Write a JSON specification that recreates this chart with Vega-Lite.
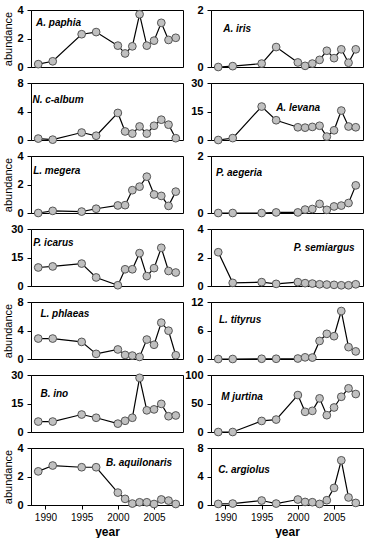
{
"$schema":"https://vega.github.io/schema/vega-lite/v6.json",
"padding":{"left":2,"top":3,"right":0,"bottom":0},
"columns":2,
"spacing":{"row":16,"column":28},
"bounds":"flush",
"datasets":{"d":[
{"species":"A. paphia","year":1989,"abundance":0.2},{"species":"A. paphia","year":1991,"abundance":0.4},{"species":"A. paphia","year":1995,"abundance":2.3},{"species":"A. paphia","year":1997,"abundance":2.45},{"species":"A. paphia","year":2000,"abundance":1.5},{"species":"A. paphia","year":2001,"abundance":0.95},{"species":"A. paphia","year":2002,"abundance":1.45},{"species":"A. paphia","year":2003,"abundance":3.7},{"species":"A. paphia","year":2004,"abundance":1.5},{"species":"A. paphia","year":2005,"abundance":1.85},{"species":"A. paphia","year":2006,"abundance":3.1},{"species":"A. paphia","year":2007,"abundance":1.9},{"species":"A. paphia","year":2008,"abundance":2.05},
{"species":"A. iris","year":1989,"abundance":0},{"species":"A. iris","year":1991,"abundance":0.03},{"species":"A. iris","year":1995,"abundance":0.12},{"species":"A. iris","year":1997,"abundance":0.7},{"species":"A. iris","year":2000,"abundance":0.16},{"species":"A. iris","year":2001,"abundance":0.04},{"species":"A. iris","year":2002,"abundance":0.12},{"species":"A. iris","year":2003,"abundance":0.25},{"species":"A. iris","year":2004,"abundance":0.57},{"species":"A. iris","year":2005,"abundance":0.31},{"species":"A. iris","year":2006,"abundance":0.62},{"species":"A. iris","year":2007,"abundance":0.15},{"species":"A. iris","year":2008,"abundance":0.62},
{"species":"N. c-album","year":1989,"abundance":0.2},{"species":"N. c-album","year":1991,"abundance":0.05},{"species":"N. c-album","year":1995,"abundance":1.05},{"species":"N. c-album","year":1997,"abundance":0.6},{"species":"N. c-album","year":2000,"abundance":3.8},{"species":"N. c-album","year":2001,"abundance":1.2},{"species":"N. c-album","year":2002,"abundance":0.9},{"species":"N. c-album","year":2003,"abundance":1.9},{"species":"N. c-album","year":2004,"abundance":0.9},{"species":"N. c-album","year":2005,"abundance":2.0},{"species":"N. c-album","year":2006,"abundance":2.85},{"species":"N. c-album","year":2007,"abundance":2.15},{"species":"N. c-album","year":2008,"abundance":0.25},
{"species":"A. levana","year":1989,"abundance":0},{"species":"A. levana","year":1991,"abundance":1},{"species":"A. levana","year":1995,"abundance":17.6},{"species":"A. levana","year":1997,"abundance":10.4},{"species":"A. levana","year":2000,"abundance":6.7},{"species":"A. levana","year":2001,"abundance":6.5},{"species":"A. levana","year":2002,"abundance":6.9},{"species":"A. levana","year":2003,"abundance":7.5},{"species":"A. levana","year":2004,"abundance":1.8},{"species":"A. levana","year":2005,"abundance":5.1},{"species":"A. levana","year":2006,"abundance":15.5},{"species":"A. levana","year":2007,"abundance":7.1},{"species":"A. levana","year":2008,"abundance":6.7},
{"species":"L. megera","year":1989,"abundance":0},{"species":"L. megera","year":1991,"abundance":0.15},{"species":"L. megera","year":1995,"abundance":0.1},{"species":"L. megera","year":1997,"abundance":0.3},{"species":"L. megera","year":2000,"abundance":0.53},{"species":"L. megera","year":2001,"abundance":0.55},{"species":"L. megera","year":2002,"abundance":1.6},{"species":"L. megera","year":2003,"abundance":1.85},{"species":"L. megera","year":2004,"abundance":2.55},{"species":"L. megera","year":2005,"abundance":1.3},{"species":"L. megera","year":2006,"abundance":1.2},{"species":"L. megera","year":2007,"abundance":0.5},{"species":"L. megera","year":2008,"abundance":1.5},
{"species":"P. aegeria","year":1989,"abundance":0},{"species":"P. aegeria","year":1991,"abundance":0},{"species":"P. aegeria","year":1995,"abundance":0},{"species":"P. aegeria","year":1997,"abundance":0.02},{"species":"P. aegeria","year":2000,"abundance":0.02},{"species":"P. aegeria","year":2001,"abundance":0.12},{"species":"P. aegeria","year":2002,"abundance":0.14},{"species":"P. aegeria","year":2003,"abundance":0.32},{"species":"P. aegeria","year":2004,"abundance":0.11},{"species":"P. aegeria","year":2005,"abundance":0.23},{"species":"P. aegeria","year":2006,"abundance":0.26},{"species":"P. aegeria","year":2007,"abundance":0.35},{"species":"P. aegeria","year":2008,"abundance":0.97},
{"species":"P. icarus","year":1989,"abundance":9.75},{"species":"P. icarus","year":1991,"abundance":10.3},{"species":"P. icarus","year":1995,"abundance":11.8},{"species":"P. icarus","year":1997,"abundance":4.5},{"species":"P. icarus","year":2000,"abundance":0.4},{"species":"P. icarus","year":2001,"abundance":8.8},{"species":"P. icarus","year":2002,"abundance":8.8},{"species":"P. icarus","year":2003,"abundance":17.3},{"species":"P. icarus","year":2004,"abundance":5.2},{"species":"P. icarus","year":2005,"abundance":9.4},{"species":"P. icarus","year":2006,"abundance":20.1},{"species":"P. icarus","year":2007,"abundance":7.9},{"species":"P. icarus","year":2008,"abundance":7.1},
{"species":"P. semiargus","year":1989,"abundance":2.37},{"species":"P. semiargus","year":1991,"abundance":0.22},{"species":"P. semiargus","year":1995,"abundance":0.27},{"species":"P. semiargus","year":1997,"abundance":0.15},{"species":"P. semiargus","year":2000,"abundance":0.27},{"species":"P. semiargus","year":2001,"abundance":0.2},{"species":"P. semiargus","year":2002,"abundance":0.17},{"species":"P. semiargus","year":2003,"abundance":0.12},{"species":"P. semiargus","year":2004,"abundance":0.1},{"species":"P. semiargus","year":2005,"abundance":0.08},{"species":"P. semiargus","year":2006,"abundance":0.05},{"species":"P. semiargus","year":2007,"abundance":0.05},{"species":"P. semiargus","year":2008,"abundance":0.12},
{"species":"L. phlaeas","year":1989,"abundance":2.87},{"species":"L. phlaeas","year":1991,"abundance":2.87},{"species":"L. phlaeas","year":1995,"abundance":2.4},{"species":"L. phlaeas","year":1997,"abundance":0.72},{"species":"L. phlaeas","year":2000,"abundance":1.34},{"species":"L. phlaeas","year":2001,"abundance":0.57},{"species":"L. phlaeas","year":2002,"abundance":0.48},{"species":"L. phlaeas","year":2003,"abundance":0.29},{"species":"L. phlaeas","year":2004,"abundance":2.73},{"species":"L. phlaeas","year":2005,"abundance":2.0},{"species":"L. phlaeas","year":2006,"abundance":5.1},{"species":"L. phlaeas","year":2007,"abundance":3.97},{"species":"L. phlaeas","year":2008,"abundance":0.53},
{"species":"L. tityrus","year":1989,"abundance":0},{"species":"L. tityrus","year":1991,"abundance":0},{"species":"L. tityrus","year":1995,"abundance":0.05},{"species":"L. tityrus","year":1997,"abundance":0.05},{"species":"L. tityrus","year":2000,"abundance":0.1},{"species":"L. tityrus","year":2001,"abundance":0.35},{"species":"L. tityrus","year":2002,"abundance":0.3},{"species":"L. tityrus","year":2003,"abundance":3.8},{"species":"L. tityrus","year":2004,"abundance":5.3},{"species":"L. tityrus","year":2005,"abundance":4.8},{"species":"L. tityrus","year":2006,"abundance":10.1},{"species":"L. tityrus","year":2007,"abundance":2.5},{"species":"L. tityrus","year":2008,"abundance":1.6},
{"species":"B. ino","year":1989,"abundance":5.5},{"species":"B. ino","year":1991,"abundance":5.5},{"species":"B. ino","year":1995,"abundance":9.2},{"species":"B. ino","year":1997,"abundance":7.5},{"species":"B. ino","year":2000,"abundance":4.4},{"species":"B. ino","year":2001,"abundance":5.9},{"species":"B. ino","year":2002,"abundance":7.5},{"species":"B. ino","year":2003,"abundance":28.5},{"species":"B. ino","year":2004,"abundance":11.4},{"species":"B. ino","year":2005,"abundance":11.9},{"species":"B. ino","year":2006,"abundance":14.8},{"species":"B. ino","year":2007,"abundance":8.3},{"species":"B. ino","year":2008,"abundance":8.7},
{"species":"M jurtina","year":1989,"abundance":0},{"species":"M jurtina","year":1991,"abundance":0},{"species":"M jurtina","year":1995,"abundance":19.4},{"species":"M jurtina","year":1997,"abundance":21.8},{"species":"M jurtina","year":2000,"abundance":64.8},{"species":"M jurtina","year":2001,"abundance":35.4},{"species":"M jurtina","year":2002,"abundance":37.1},{"species":"M jurtina","year":2003,"abundance":59},{"species":"M jurtina","year":2004,"abundance":29.5},{"species":"M jurtina","year":2005,"abundance":43},{"species":"M jurtina","year":2006,"abundance":61.8},{"species":"M jurtina","year":2007,"abundance":76.6},{"species":"M jurtina","year":2008,"abundance":66.6},
{"species":"B. aquilonaris","year":1989,"abundance":2.36},{"species":"B. aquilonaris","year":1991,"abundance":2.77},{"species":"B. aquilonaris","year":1995,"abundance":2.65},{"species":"B. aquilonaris","year":1997,"abundance":2.65},{"species":"B. aquilonaris","year":2000,"abundance":0.87},{"species":"B. aquilonaris","year":2001,"abundance":0.43},{"species":"B. aquilonaris","year":2002,"abundance":0.1},{"species":"B. aquilonaris","year":2003,"abundance":0.19},{"species":"B. aquilonaris","year":2004,"abundance":0.19},{"species":"B. aquilonaris","year":2005,"abundance":0.07},{"species":"B. aquilonaris","year":2006,"abundance":0.39},{"species":"B. aquilonaris","year":2007,"abundance":0.31},{"species":"B. aquilonaris","year":2008,"abundance":0.07},
{"species":"C. argiolus","year":1989,"abundance":0.15},{"species":"C. argiolus","year":1991,"abundance":0.2},{"species":"C. argiolus","year":1995,"abundance":0.63},{"species":"C. argiolus","year":1997,"abundance":0.2},{"species":"C. argiolus","year":2000,"abundance":0.77},{"species":"C. argiolus","year":2001,"abundance":0.43},{"species":"C. argiolus","year":2002,"abundance":0.39},{"species":"C. argiolus","year":2003,"abundance":0.15},{"species":"C. argiolus","year":2004,"abundance":0.67},{"species":"C. argiolus","year":2005,"abundance":2.4},{"species":"C. argiolus","year":2006,"abundance":6.27},{"species":"C. argiolus","year":2007,"abundance":1.06},{"species":"C. argiolus","year":2008,"abundance":0.29}
]},
"concat":[
{"width":152,"height":57,"layer":[
{"data":{"name":"d"},"transform":[{"filter":"datum.species==='A. paphia'"}],"mark":{"type":"line","color":"black","strokeWidth":1.2},"encoding":{"x":{"field":"year","type":"quantitative","scale":{"domain":[1988,2009],"nice":false,"zero":false},"axis":null},"y":{"field":"abundance","type":"quantitative","scale":{"domain":[0,4],"nice":false},"axis":{"values":[0,2,4],"format":"d","title":"abundance"}}}},
{"data":{"name":"d"},"transform":[{"filter":"datum.species==='A. paphia'"}],"mark":{"type":"point","filled":true,"fill":"#c0c0c0","stroke":"#555555","strokeWidth":1,"size":60,"opacity":1},"encoding":{"x":{"field":"year","type":"quantitative","scale":{"domain":[1988,2009],"nice":false,"zero":false},"axis":null},"y":{"field":"abundance","type":"quantitative","scale":{"domain":[0,4],"nice":false},"axis":{"values":[0,2,4],"format":"d","title":"abundance"}}}},
{"data":{"values":[{"label":"A. paphia"}]},"mark":{"type":"text","align":"left","baseline":"middle","fontStyle":"italic","fontWeight":"bold","fontSize":10},"encoding":{"text":{"field":"label"},"x":{"datum":1988.7,"type":"quantitative","scale":{"domain":[1988,2009],"nice":false,"zero":false},"axis":null},"y":{"datum":3.1,"type":"quantitative","scale":{"domain":[0,4],"nice":false},"axis":{"values":[0,2,4],"format":"d","title":"abundance"}}}}]},
{"width":152,"height":57,"layer":[
{"data":{"name":"d"},"transform":[{"filter":"datum.species==='A. iris'"}],"mark":{"type":"line","color":"black","strokeWidth":1.2},"encoding":{"x":{"field":"year","type":"quantitative","scale":{"domain":[1988,2009],"nice":false,"zero":false},"axis":null},"y":{"field":"abundance","type":"quantitative","scale":{"domain":[0,2],"nice":false},"axis":{"values":[0,1,2],"format":"d","title":null}}}},
{"data":{"name":"d"},"transform":[{"filter":"datum.species==='A. iris'"}],"mark":{"type":"point","filled":true,"fill":"#c0c0c0","stroke":"#555555","strokeWidth":1,"size":60,"opacity":1},"encoding":{"x":{"field":"year","type":"quantitative","scale":{"domain":[1988,2009],"nice":false,"zero":false},"axis":null},"y":{"field":"abundance","type":"quantitative","scale":{"domain":[0,2],"nice":false},"axis":{"values":[0,1,2],"format":"d","title":null}}}},
{"data":{"values":[{"label":"A. iris"}]},"mark":{"type":"text","align":"left","baseline":"middle","fontStyle":"italic","fontWeight":"bold","fontSize":10},"encoding":{"text":{"field":"label"},"x":{"datum":1989.7,"type":"quantitative","scale":{"domain":[1988,2009],"nice":false,"zero":false},"axis":null},"y":{"datum":1.33,"type":"quantitative","scale":{"domain":[0,2],"nice":false},"axis":{"values":[0,1,2],"format":"d","title":null}}}}]},
{"width":152,"height":57,"layer":[
{"data":{"name":"d"},"transform":[{"filter":"datum.species==='N. c-album'"}],"mark":{"type":"line","color":"black","strokeWidth":1.2},"encoding":{"x":{"field":"year","type":"quantitative","scale":{"domain":[1988,2009],"nice":false,"zero":false},"axis":null},"y":{"field":"abundance","type":"quantitative","scale":{"domain":[0,8],"nice":false},"axis":{"values":[0,4,8],"format":"d","title":null}}}},
{"data":{"name":"d"},"transform":[{"filter":"datum.species==='N. c-album'"}],"mark":{"type":"point","filled":true,"fill":"#c0c0c0","stroke":"#555555","strokeWidth":1,"size":60,"opacity":1},"encoding":{"x":{"field":"year","type":"quantitative","scale":{"domain":[1988,2009],"nice":false,"zero":false},"axis":null},"y":{"field":"abundance","type":"quantitative","scale":{"domain":[0,8],"nice":false},"axis":{"values":[0,4,8],"format":"d","title":null}}}},
{"data":{"values":[{"label":"N. c-album"}]},"mark":{"type":"text","align":"left","baseline":"middle","fontStyle":"italic","fontWeight":"bold","fontSize":10},"encoding":{"text":{"field":"label"},"x":{"datum":1988.2,"type":"quantitative","scale":{"domain":[1988,2009],"nice":false,"zero":false},"axis":null},"y":{"datum":5.6,"type":"quantitative","scale":{"domain":[0,8],"nice":false},"axis":{"values":[0,4,8],"format":"d","title":null}}}}]},
{"width":152,"height":57,"layer":[
{"data":{"name":"d"},"transform":[{"filter":"datum.species==='A. levana'"}],"mark":{"type":"line","color":"black","strokeWidth":1.2},"encoding":{"x":{"field":"year","type":"quantitative","scale":{"domain":[1988,2009],"nice":false,"zero":false},"axis":null},"y":{"field":"abundance","type":"quantitative","scale":{"domain":[0,30],"nice":false},"axis":{"values":[0,15,30],"format":"d","title":null}}}},
{"data":{"name":"d"},"transform":[{"filter":"datum.species==='A. levana'"}],"mark":{"type":"point","filled":true,"fill":"#c0c0c0","stroke":"#555555","strokeWidth":1,"size":60,"opacity":1},"encoding":{"x":{"field":"year","type":"quantitative","scale":{"domain":[1988,2009],"nice":false,"zero":false},"axis":null},"y":{"field":"abundance","type":"quantitative","scale":{"domain":[0,30],"nice":false},"axis":{"values":[0,15,30],"format":"d","title":null}}}},
{"data":{"values":[{"label":"A. levana"}]},"mark":{"type":"text","align":"left","baseline":"middle","fontStyle":"italic","fontWeight":"bold","fontSize":10},"encoding":{"text":{"field":"label"},"x":{"datum":1997.0,"type":"quantitative","scale":{"domain":[1988,2009],"nice":false,"zero":false},"axis":null},"y":{"datum":16.8,"type":"quantitative","scale":{"domain":[0,30],"nice":false},"axis":{"values":[0,15,30],"format":"d","title":null}}}}]},
{"width":152,"height":57,"layer":[
{"data":{"name":"d"},"transform":[{"filter":"datum.species==='L. megera'"}],"mark":{"type":"line","color":"black","strokeWidth":1.2},"encoding":{"x":{"field":"year","type":"quantitative","scale":{"domain":[1988,2009],"nice":false,"zero":false},"axis":null},"y":{"field":"abundance","type":"quantitative","scale":{"domain":[0,4],"nice":false},"axis":{"values":[0,2,4],"format":"d","title":"abundance"}}}},
{"data":{"name":"d"},"transform":[{"filter":"datum.species==='L. megera'"}],"mark":{"type":"point","filled":true,"fill":"#c0c0c0","stroke":"#555555","strokeWidth":1,"size":60,"opacity":1},"encoding":{"x":{"field":"year","type":"quantitative","scale":{"domain":[1988,2009],"nice":false,"zero":false},"axis":null},"y":{"field":"abundance","type":"quantitative","scale":{"domain":[0,4],"nice":false},"axis":{"values":[0,2,4],"format":"d","title":"abundance"}}}},
{"data":{"values":[{"label":"L. megera"}]},"mark":{"type":"text","align":"left","baseline":"middle","fontStyle":"italic","fontWeight":"bold","fontSize":10},"encoding":{"text":{"field":"label"},"x":{"datum":1988.3,"type":"quantitative","scale":{"domain":[1988,2009],"nice":false,"zero":false},"axis":null},"y":{"datum":2.95,"type":"quantitative","scale":{"domain":[0,4],"nice":false},"axis":{"values":[0,2,4],"format":"d","title":"abundance"}}}}]},
{"width":152,"height":57,"layer":[
{"data":{"name":"d"},"transform":[{"filter":"datum.species==='P. aegeria'"}],"mark":{"type":"line","color":"black","strokeWidth":1.2},"encoding":{"x":{"field":"year","type":"quantitative","scale":{"domain":[1988,2009],"nice":false,"zero":false},"axis":null},"y":{"field":"abundance","type":"quantitative","scale":{"domain":[0,2],"nice":false},"axis":{"values":[0,1,2],"format":"d","title":null}}}},
{"data":{"name":"d"},"transform":[{"filter":"datum.species==='P. aegeria'"}],"mark":{"type":"point","filled":true,"fill":"#c0c0c0","stroke":"#555555","strokeWidth":1,"size":60,"opacity":1},"encoding":{"x":{"field":"year","type":"quantitative","scale":{"domain":[1988,2009],"nice":false,"zero":false},"axis":null},"y":{"field":"abundance","type":"quantitative","scale":{"domain":[0,2],"nice":false},"axis":{"values":[0,1,2],"format":"d","title":null}}}},
{"data":{"values":[{"label":"P. aegeria"}]},"mark":{"type":"text","align":"left","baseline":"middle","fontStyle":"italic","fontWeight":"bold","fontSize":10},"encoding":{"text":{"field":"label"},"x":{"datum":1988.7,"type":"quantitative","scale":{"domain":[1988,2009],"nice":false,"zero":false},"axis":null},"y":{"datum":1.4,"type":"quantitative","scale":{"domain":[0,2],"nice":false},"axis":{"values":[0,1,2],"format":"d","title":null}}}}]},
{"width":152,"height":57,"layer":[
{"data":{"name":"d"},"transform":[{"filter":"datum.species==='P. icarus'"}],"mark":{"type":"line","color":"black","strokeWidth":1.2},"encoding":{"x":{"field":"year","type":"quantitative","scale":{"domain":[1988,2009],"nice":false,"zero":false},"axis":null},"y":{"field":"abundance","type":"quantitative","scale":{"domain":[0,30],"nice":false},"axis":{"values":[0,15,30],"format":"d","title":null}}}},
{"data":{"name":"d"},"transform":[{"filter":"datum.species==='P. icarus'"}],"mark":{"type":"point","filled":true,"fill":"#c0c0c0","stroke":"#555555","strokeWidth":1,"size":60,"opacity":1},"encoding":{"x":{"field":"year","type":"quantitative","scale":{"domain":[1988,2009],"nice":false,"zero":false},"axis":null},"y":{"field":"abundance","type":"quantitative","scale":{"domain":[0,30],"nice":false},"axis":{"values":[0,15,30],"format":"d","title":null}}}},
{"data":{"values":[{"label":"P. icarus"}]},"mark":{"type":"text","align":"left","baseline":"middle","fontStyle":"italic","fontWeight":"bold","fontSize":10},"encoding":{"text":{"field":"label"},"x":{"datum":1988.3,"type":"quantitative","scale":{"domain":[1988,2009],"nice":false,"zero":false},"axis":null},"y":{"datum":22.6,"type":"quantitative","scale":{"domain":[0,30],"nice":false},"axis":{"values":[0,15,30],"format":"d","title":null}}}}]},
{"width":152,"height":57,"layer":[
{"data":{"name":"d"},"transform":[{"filter":"datum.species==='P. semiargus'"}],"mark":{"type":"line","color":"black","strokeWidth":1.2},"encoding":{"x":{"field":"year","type":"quantitative","scale":{"domain":[1988,2009],"nice":false,"zero":false},"axis":null},"y":{"field":"abundance","type":"quantitative","scale":{"domain":[0,4],"nice":false},"axis":{"values":[0,2,4],"format":"d","title":null}}}},
{"data":{"name":"d"},"transform":[{"filter":"datum.species==='P. semiargus'"}],"mark":{"type":"point","filled":true,"fill":"#c0c0c0","stroke":"#555555","strokeWidth":1,"size":60,"opacity":1},"encoding":{"x":{"field":"year","type":"quantitative","scale":{"domain":[1988,2009],"nice":false,"zero":false},"axis":null},"y":{"field":"abundance","type":"quantitative","scale":{"domain":[0,4],"nice":false},"axis":{"values":[0,2,4],"format":"d","title":null}}}},
{"data":{"values":[{"label":"P. semiargus"}]},"mark":{"type":"text","align":"right","baseline":"middle","fontStyle":"italic","fontWeight":"bold","fontSize":10},"encoding":{"text":{"field":"label"},"x":{"datum":2007.85,"type":"quantitative","scale":{"domain":[1988,2009],"nice":false,"zero":false},"axis":null},"y":{"datum":2.67,"type":"quantitative","scale":{"domain":[0,4],"nice":false},"axis":{"values":[0,2,4],"format":"d","title":null}}}}]},
{"width":152,"height":57,"layer":[
{"data":{"name":"d"},"transform":[{"filter":"datum.species==='L. phlaeas'"}],"mark":{"type":"line","color":"black","strokeWidth":1.2},"encoding":{"x":{"field":"year","type":"quantitative","scale":{"domain":[1988,2009],"nice":false,"zero":false},"axis":null},"y":{"field":"abundance","type":"quantitative","scale":{"domain":[0,8],"nice":false},"axis":{"values":[0,4,8],"format":"d","title":"abundance"}}}},
{"data":{"name":"d"},"transform":[{"filter":"datum.species==='L. phlaeas'"}],"mark":{"type":"point","filled":true,"fill":"#c0c0c0","stroke":"#555555","strokeWidth":1,"size":60,"opacity":1},"encoding":{"x":{"field":"year","type":"quantitative","scale":{"domain":[1988,2009],"nice":false,"zero":false},"axis":null},"y":{"field":"abundance","type":"quantitative","scale":{"domain":[0,8],"nice":false},"axis":{"values":[0,4,8],"format":"d","title":"abundance"}}}},
{"data":{"values":[{"label":"L. phlaeas"}]},"mark":{"type":"text","align":"left","baseline":"middle","fontStyle":"italic","fontWeight":"bold","fontSize":10},"encoding":{"text":{"field":"label"},"x":{"datum":1989.3,"type":"quantitative","scale":{"domain":[1988,2009],"nice":false,"zero":false},"axis":null},"y":{"datum":6.3,"type":"quantitative","scale":{"domain":[0,8],"nice":false},"axis":{"values":[0,4,8],"format":"d","title":"abundance"}}}}]},
{"width":152,"height":57,"layer":[
{"data":{"name":"d"},"transform":[{"filter":"datum.species==='L. tityrus'"}],"mark":{"type":"line","color":"black","strokeWidth":1.2},"encoding":{"x":{"field":"year","type":"quantitative","scale":{"domain":[1988,2009],"nice":false,"zero":false},"axis":null},"y":{"field":"abundance","type":"quantitative","scale":{"domain":[0,12],"nice":false},"axis":{"values":[0,6,12],"format":"d","title":null}}}},
{"data":{"name":"d"},"transform":[{"filter":"datum.species==='L. tityrus'"}],"mark":{"type":"point","filled":true,"fill":"#c0c0c0","stroke":"#555555","strokeWidth":1,"size":60,"opacity":1},"encoding":{"x":{"field":"year","type":"quantitative","scale":{"domain":[1988,2009],"nice":false,"zero":false},"axis":null},"y":{"field":"abundance","type":"quantitative","scale":{"domain":[0,12],"nice":false},"axis":{"values":[0,6,12],"format":"d","title":null}}}},
{"data":{"values":[{"label":"L. tityrus"}]},"mark":{"type":"text","align":"left","baseline":"middle","fontStyle":"italic","fontWeight":"bold","fontSize":10},"encoding":{"text":{"field":"label"},"x":{"datum":1989.1,"type":"quantitative","scale":{"domain":[1988,2009],"nice":false,"zero":false},"axis":null},"y":{"datum":8.2,"type":"quantitative","scale":{"domain":[0,12],"nice":false},"axis":{"values":[0,6,12],"format":"d","title":null}}}}]},
{"width":152,"height":57,"layer":[
{"data":{"name":"d"},"transform":[{"filter":"datum.species==='B. ino'"}],"mark":{"type":"line","color":"black","strokeWidth":1.2},"encoding":{"x":{"field":"year","type":"quantitative","scale":{"domain":[1988,2009],"nice":false,"zero":false},"axis":null},"y":{"field":"abundance","type":"quantitative","scale":{"domain":[0,30],"nice":false},"axis":{"values":[0,15,30],"format":"d","title":null}}}},
{"data":{"name":"d"},"transform":[{"filter":"datum.species==='B. ino'"}],"mark":{"type":"point","filled":true,"fill":"#c0c0c0","stroke":"#555555","strokeWidth":1,"size":60,"opacity":1},"encoding":{"x":{"field":"year","type":"quantitative","scale":{"domain":[1988,2009],"nice":false,"zero":false},"axis":null},"y":{"field":"abundance","type":"quantitative","scale":{"domain":[0,30],"nice":false},"axis":{"values":[0,15,30],"format":"d","title":null}}}},
{"data":{"values":[{"label":"B. ino"}]},"mark":{"type":"text","align":"left","baseline":"middle","fontStyle":"italic","fontWeight":"bold","fontSize":10},"encoding":{"text":{"field":"label"},"x":{"datum":1989.3,"type":"quantitative","scale":{"domain":[1988,2009],"nice":false,"zero":false},"axis":null},"y":{"datum":20,"type":"quantitative","scale":{"domain":[0,30],"nice":false},"axis":{"values":[0,15,30],"format":"d","title":null}}}}]},
{"width":152,"height":57,"layer":[
{"data":{"name":"d"},"transform":[{"filter":"datum.species==='M jurtina'"}],"mark":{"type":"line","color":"black","strokeWidth":1.2},"encoding":{"x":{"field":"year","type":"quantitative","scale":{"domain":[1988,2009],"nice":false,"zero":false},"axis":null},"y":{"field":"abundance","type":"quantitative","scale":{"domain":[0,100],"nice":false},"axis":{"values":[0,50,100],"format":"d","title":null}}}},
{"data":{"name":"d"},"transform":[{"filter":"datum.species==='M jurtina'"}],"mark":{"type":"point","filled":true,"fill":"#c0c0c0","stroke":"#555555","strokeWidth":1,"size":60,"opacity":1},"encoding":{"x":{"field":"year","type":"quantitative","scale":{"domain":[1988,2009],"nice":false,"zero":false},"axis":null},"y":{"field":"abundance","type":"quantitative","scale":{"domain":[0,100],"nice":false},"axis":{"values":[0,50,100],"format":"d","title":null}}}},
{"data":{"values":[{"label":"M jurtina"}]},"mark":{"type":"text","align":"left","baseline":"middle","fontStyle":"italic","fontWeight":"bold","fontSize":10},"encoding":{"text":{"field":"label"},"x":{"datum":1989.4,"type":"quantitative","scale":{"domain":[1988,2009],"nice":false,"zero":false},"axis":null},"y":{"datum":61.4,"type":"quantitative","scale":{"domain":[0,100],"nice":false},"axis":{"values":[0,50,100],"format":"d","title":null}}}}]},
{"width":152,"height":57,"layer":[
{"data":{"name":"d"},"transform":[{"filter":"datum.species==='B. aquilonaris'"}],"mark":{"type":"line","color":"black","strokeWidth":1.2},"encoding":{"x":{"field":"year","type":"quantitative","scale":{"domain":[1988,2009],"nice":false,"zero":false},"axis":{"values":[1990,1995,2000,2005],"format":"d","title":"year"}},"y":{"field":"abundance","type":"quantitative","scale":{"domain":[0,4],"nice":false},"axis":{"values":[0,2,4],"format":"d","title":"abundance"}}}},
{"data":{"name":"d"},"transform":[{"filter":"datum.species==='B. aquilonaris'"}],"mark":{"type":"point","filled":true,"fill":"#c0c0c0","stroke":"#555555","strokeWidth":1,"size":60,"opacity":1},"encoding":{"x":{"field":"year","type":"quantitative","scale":{"domain":[1988,2009],"nice":false,"zero":false},"axis":{"values":[1990,1995,2000,2005],"format":"d","title":"year"}},"y":{"field":"abundance","type":"quantitative","scale":{"domain":[0,4],"nice":false},"axis":{"values":[0,2,4],"format":"d","title":"abundance"}}}},
{"data":{"values":[{"label":"B. aquilonaris"}]},"mark":{"type":"text","align":"right","baseline":"middle","fontStyle":"italic","fontWeight":"bold","fontSize":10},"encoding":{"text":{"field":"label"},"x":{"datum":2007.5,"type":"quantitative","scale":{"domain":[1988,2009],"nice":false,"zero":false},"axis":{"values":[1990,1995,2000,2005],"format":"d","title":"year"}},"y":{"datum":2.95,"type":"quantitative","scale":{"domain":[0,4],"nice":false},"axis":{"values":[0,2,4],"format":"d","title":"abundance"}}}}]},
{"width":152,"height":57,"layer":[
{"data":{"name":"d"},"transform":[{"filter":"datum.species==='C. argiolus'"}],"mark":{"type":"line","color":"black","strokeWidth":1.2},"encoding":{"x":{"field":"year","type":"quantitative","scale":{"domain":[1988,2009],"nice":false,"zero":false},"axis":{"values":[1990,1995,2000,2005],"format":"d","title":"year"}},"y":{"field":"abundance","type":"quantitative","scale":{"domain":[0,8],"nice":false},"axis":{"values":[0,4,8],"format":"d","title":null}}}},
{"data":{"name":"d"},"transform":[{"filter":"datum.species==='C. argiolus'"}],"mark":{"type":"point","filled":true,"fill":"#c0c0c0","stroke":"#555555","strokeWidth":1,"size":60,"opacity":1},"encoding":{"x":{"field":"year","type":"quantitative","scale":{"domain":[1988,2009],"nice":false,"zero":false},"axis":{"values":[1990,1995,2000,2005],"format":"d","title":"year"}},"y":{"field":"abundance","type":"quantitative","scale":{"domain":[0,8],"nice":false},"axis":{"values":[0,4,8],"format":"d","title":null}}}},
{"data":{"values":[{"label":"C. argiolus"}]},"mark":{"type":"text","align":"left","baseline":"middle","fontStyle":"italic","fontWeight":"bold","fontSize":10},"encoding":{"text":{"field":"label"},"x":{"datum":1989.0,"type":"quantitative","scale":{"domain":[1988,2009],"nice":false,"zero":false},"axis":{"values":[1990,1995,2000,2005],"format":"d","title":"year"}},"y":{"datum":4.9,"type":"quantitative","scale":{"domain":[0,8],"nice":false},"axis":{"values":[0,4,8],"format":"d","title":null}}}}]}
],
"config":{
"font":"Liberation Sans",
"view":{"stroke":"black","strokeWidth":1},
"axis":{"grid":false,"domainColor":"black","tickColor":"black","labelColor":"black","titleColor":"black","tickSize":4,"labelFont":"Liberation Sans","titleFont":"Liberation Sans","labelFlush":false,"labelOverlap":false},
"axisY":{"labelFontWeight":"bold","labelFontSize":11,"labelPadding":4,"titleFontWeight":"normal","titleFontSize":11,"titlePadding":3},
"axisX":{"labelFontWeight":"normal","labelFontSize":10,"labelPadding":3,"titleFontWeight":"bold","titleFontSize":12,"titlePadding":4},
"text":{"color":"black","font":"Liberation Sans"}
}
}
